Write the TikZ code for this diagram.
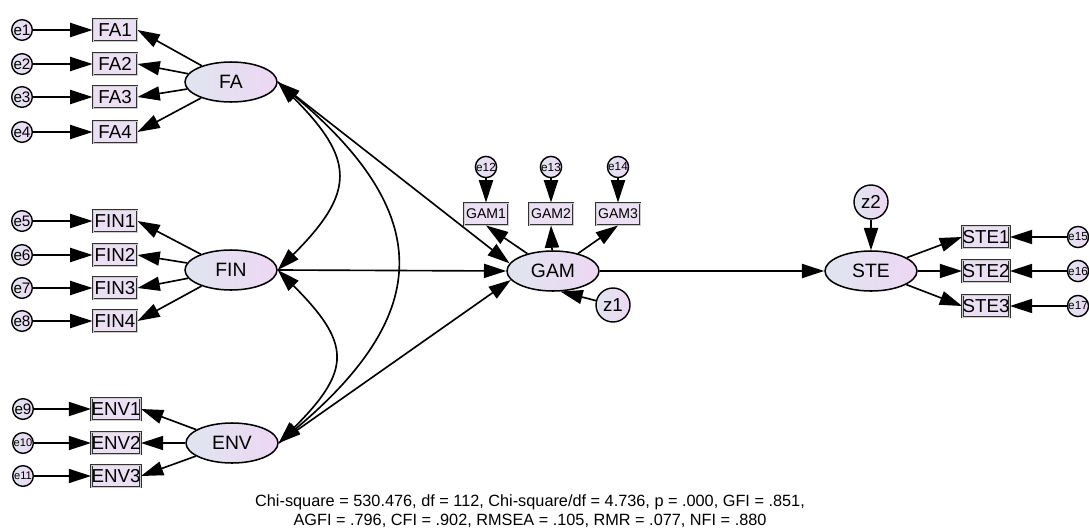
\documentclass[tikz,border=0pt]{standalone}
\usepackage{fontspec}
\setmainfont{Liberation Sans}
\usetikzlibrary{%
        arrows.meta,
        shapes.geometric
    }
\definecolor{lavender}{RGB}{235, 224, 243}
\definecolor{lavleft}{RGB}{224, 229, 239}
\definecolor{lavright}{RGB}{237, 215, 243}
\definecolor{boxline}{RGB}{50, 50, 50}

\tikzset{
    latent/.style={ellipse, draw, line width=1.3pt, inner sep=0pt,
        left color=lavleft, right color=lavright,
        minimum width=2.76cm, minimum height=1.2cm,
        font=\fontsize{16.5}{18}\selectfont},
    obs/.style={rectangle, draw=boxline, double=gray!40, line width=0.85pt,
        double distance=0.6pt, fill=lavender, inner sep=0pt,
        minimum width=1.32cm, minimum height=0.66cm,
        font=\fontsize{16}{18}\selectfont},
    obssm/.style={obs, font=\fontsize{12}{13}\selectfont},
    err/.style={circle, draw, line width=1.2pt, inner sep=0pt,
        left color=lavleft, right color=lavright, minimum size=0.62cm,
        font=\fontsize{13}{14}\selectfont},
    errsm/.style={err, font=\fontsize{9.5}{10}\selectfont},
    errmd/.style={err, font=\fontsize{10}{11}\selectfont},
    dist/.style={err, minimum size=1.02cm, font=\fontsize{16}{18}\selectfont},
    arr/.style={-{Triangle[length=19pt, width=12pt]}},
    covar/.style={{Triangle[length=19pt, width=12pt]}-{Triangle[length=19pt, width=12pt]}}
}

\begin{document}
\begin{tikzpicture}[x=0.03cm, y=0.03cm, line width=1.4pt]

    \useasboundingbox (0, 0) rectangle (1089, -529);

    % exogenous factors and their indicators
    \node[latent] (FA) at (231, -82) {FA};
    \foreach \i/\y in {1/30, 2/64, 3/97, 4/132} {%
        \node[err] (e\i) at (22, -\y) {e\i};
        \node[obs] (FA\i) at (115, -\y) {FA\i};
        \draw[arr] (e\i) -- (FA\i);
        \draw[arr] (FA) -- (FA\i.east);
    };

    \node[latent] (FIN) at (231, -270) {FIN};
    \foreach \i/\e/\y in {1/5/221, 2/6/255, 3/7/288, 4/8/321} {%
        \node[err] (e\e) at (22, -\y) {e\e};
        \node[obs] (FIN\i) at (115, -\y) {FIN\i};
        \draw[arr] (e\e) -- (FIN\i);
        \draw[arr] (FIN) -- (FIN\i.east);
    };

    \node[latent] (ENV) at (232, -443) {ENV};
    \foreach \i/\e/\y/\st in {1/9/409/err, 2/10/443/errsm, 3/11/476/errsm} {%
        \node[\st] (e\e) at (23, -\y) {e\e};
        \node[obs] (ENV\i) at (116, -\y) {ENV\i};
        \draw[arr] (e\e) -- (ENV\i);
        \draw[arr] (ENV) -- (ENV\i.east);
    };

    % covariances
    \draw[covar] (FA.east) to[out=-45, in=45, looseness=1.5] (FIN.east);
    \draw[covar] (FA.east) to[out=-40, in=40, looseness=1.44] (ENV.east);
    \draw[covar] (FIN.east) to[out=-45, in=45, looseness=1.53] (ENV.east);

    % mediator
    \node[latent] (GAM) at (553, -271) {GAM};
    \foreach \i/\e/\x in {1/12/486, 2/13/551, 3/14/618} {%
        \node[errmd] (e\e) at (\x, -167) {e\e};
        \node[obssm] (GAM\i) at (\x, -214) {GAM\i};
        \draw[arr] (e\e) -- (GAM\i);
        \draw[arr] (GAM) -- (GAM\i.south);
    };
    \node[dist] (z1) at (613, -305) {z1};
    \draw[arr] (z1) -- (GAM.-70);

    \draw[arr] (FA.east) -- (GAM.170);
    \draw[arr] (FIN.east) -- (GAM.west);
    \draw[arr] (ENV.east) -- (GAM.192);

    % outcome
    \node[latent] (STE) at (871, -271) {STE};
    \foreach \i/\e/\y in {1/15/237, 2/16/271, 3/17/306} {%
        \node[errmd] (e\e) at (1078, -\y) {e\e};
        \node[obs] (STE\i) at (986, -\y) {STE\i};
        \draw[arr] (e\e) -- (STE\i);
        \draw[arr] (STE) -- (STE\i.west);
    };
    \node[dist] (z2) at (871, -202) {z2};
    \draw[arr] (z2) -- (STE);
    \draw[arr] (GAM) -- (STE);

    \node[align=center, font=\fontsize{13.9}{16.5}\selectfont] (fit) at (530, -511)
        {Chi-square = 530.476, df = 112, Chi-square/df = 4.736, p = .000, GFI = .851,\\
         AGFI = .796, CFI = .902, RMSEA = .105, RMR = .077, NFI = .880};

\end{tikzpicture}
\end{document}
